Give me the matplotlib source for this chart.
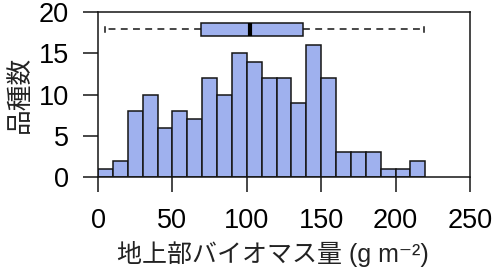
import matplotlib
matplotlib.use("Agg")
import matplotlib.pyplot as plt
import numpy as np

plt.rcParams["font.family"] = ["Liberation Sans", "Noto Sans CJK JP", "DejaVu Sans"]

# histogram: bin edges (g m^-2) and species counts
bin_edges = list(range(0, 230, 10))
counts = [1, 2, 8, 10, 6, 8, 7, 12, 10, 15, 14, 12, 12, 9, 16, 12, 3, 3, 3, 1, 1, 2]

# boxplot summary of the same distribution
box_min = 5
box_q1 = 69
box_median = 102
box_q3 = 138
box_max = 219

x_ticks = [0, 50, 100, 150, 200, 250]
y_ticks = [0, 5, 10, 15, 20]

bar_color = "#9fb1ee"
edge_color = "#151515"

fig = plt.figure(figsize=(5, 2.7), dpi=100)
ax = fig.add_axes([0.196, 0.344, 0.744, 0.611])

edges = np.asarray(bin_edges, dtype=float)
ax.bar(
    edges[:-1],
    counts,
    width=np.diff(edges),
    align="edge",
    color=bar_color,
    edgecolor=edge_color,
    linewidth=1.1,
    zorder=2,
)

stats = [
    {
        "whislo": box_min,
        "q1": box_q1,
        "med": box_median,
        "q3": box_q3,
        "whishi": box_max,
        "fliers": [],
    }
]
ax.bxp(
    stats,
    positions=[17.9],
    widths=1.65,
    orientation="horizontal",
    patch_artist=True,
    showfliers=False,
    capwidths=0.7,
    boxprops=dict(facecolor=bar_color, edgecolor=edge_color, linewidth=1.1),
    medianprops=dict(color="black", linewidth=3, solid_capstyle="butt"),
    whiskerprops=dict(color=edge_color, linewidth=1.1, linestyle=(0, (4.5, 3.5))),
    capprops=dict(color=edge_color, linewidth=1.1),
    manage_ticks=False,
)

ax.set_xlim(0, 250)
ax.set_ylim(0, 20)
ax.set_xticks(x_ticks)
ax.set_yticks(y_ticks)
ax.tick_params(axis="both", direction="out", length=11, width=1.1,
               labelsize=19.5, color=edge_color)
ax.tick_params(axis="x", pad=11)
ax.tick_params(axis="y", pad=10)
for s in ax.spines.values():
    s.set_linewidth(1.1)
    s.set_color(edge_color)

ax.set_xlabel("地上部バイオマス量 (g m⁻²)", fontsize=18, color="#222222")
ax.xaxis.set_label_coords(0.47, -0.385)
ax.set_ylabel("品種数", fontsize=18.5, color="#222222", labelpad=5)

fig.savefig("out.png", dpi=100)
